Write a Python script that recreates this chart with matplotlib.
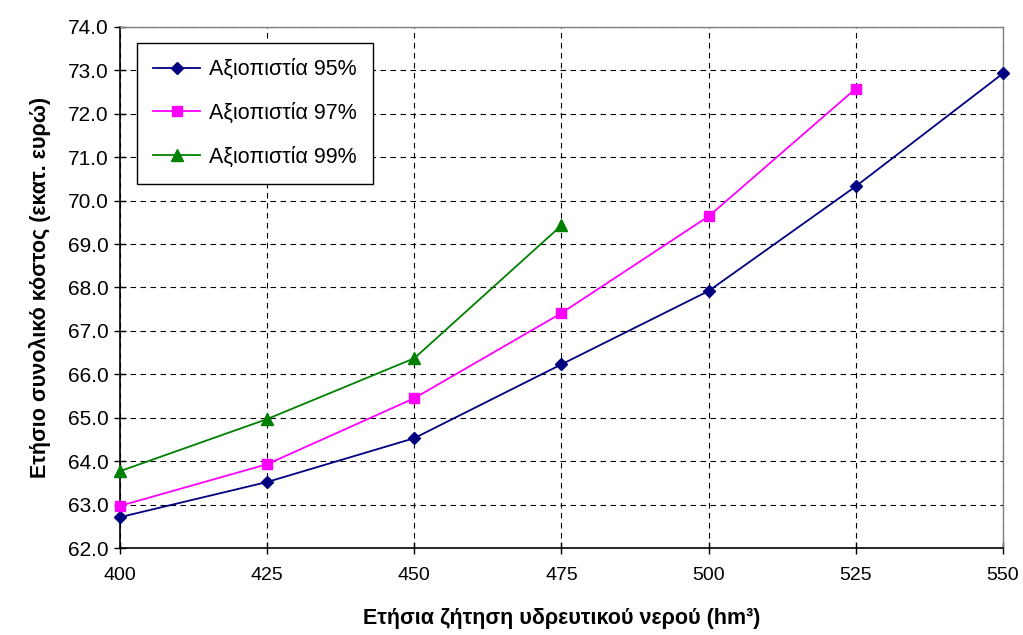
import matplotlib
matplotlib.use('Agg')
import matplotlib.pyplot as plt

plt.rcParams['font.family'] = ['Liberation Sans', 'DejaVu Sans']

# Data
x_95 = [400, 425, 450, 475, 500, 525, 550]
y_95 = [62.71, 63.52, 64.53, 66.23, 67.92, 70.33, 72.93]
x_97 = [400, 425, 450, 475, 500, 525]
y_97 = [62.97, 63.93, 65.45, 67.41, 69.64, 72.58]
x_99 = [400, 425, 450, 475]
y_99 = [63.77, 64.97, 66.37, 69.43]

labels = ['Αξιοπιστία 95%', 'Αξιοπιστία 97%', 'Αξιοπιστία 99%']
x_ticks = [400, 425, 450, 475, 500, 525, 550]
y_ticks = [62 + i for i in range(13)]

fig = plt.figure(figsize=(10.23, 6.35), dpi=100)
ax = fig.add_axes([0.1173, 0.137, 0.8631, 0.8205])

ax.plot(x_95, y_95, color='#000080', marker='D', markersize=6, lw=1.3, label=labels[0], clip_on=False, zorder=5)
ax.plot(x_97, y_97, color='#FF00FF', marker='s', markersize=6.5, lw=1.3, label=labels[1], clip_on=False, zorder=5)
ax.plot(x_99, y_99, color='#008000', marker='^', markersize=8, lw=1.3, label=labels[2], clip_on=False, zorder=5)

ax.set_xlim(400, 550)
ax.set_ylim(62, 74)
ax.set_xticks(x_ticks)
ax.set_yticks(y_ticks)
ax.set_yticklabels([f'{v:.1f}' for v in y_ticks])
ax.tick_params(direction='inout', length=8, width=1)
ax.tick_params(axis='y', labelsize=15, pad=4)
ax.tick_params(axis='x', labelsize=14, pad=10)
ax.grid(True, color='black', linestyle=(0, (5, 4)), linewidth=0.8)

for side in ['left', 'bottom']:
    ax.spines[side].set_color('black')
    ax.spines[side].set_linewidth(1.2)
for side in ['top', 'right']:
    ax.spines[side].set_color('#808080')
    ax.spines[side].set_linewidth(1)

ax.set_xlabel('Ετήσια ζήτηση υδρευτικού νερού (hm³)', fontsize=15.5, fontweight='bold', labelpad=17)
ax.set_ylabel('Ετήσιο συνολικό κόστος (εκατ. ευρώ)', fontsize=15.5, fontweight='bold', labelpad=12)

leg = ax.legend(loc='upper left', bbox_to_anchor=(0.019, 0.969), borderaxespad=0, fontsize=15.5,
                frameon=True, fancybox=False, edgecolor='black', framealpha=1, labelspacing=1.05,
                handlelength=2.2, borderpad=0.75, handletextpad=0.4)
leg.get_frame().set_linewidth(1)

fig.savefig('out.png', dpi=100)
